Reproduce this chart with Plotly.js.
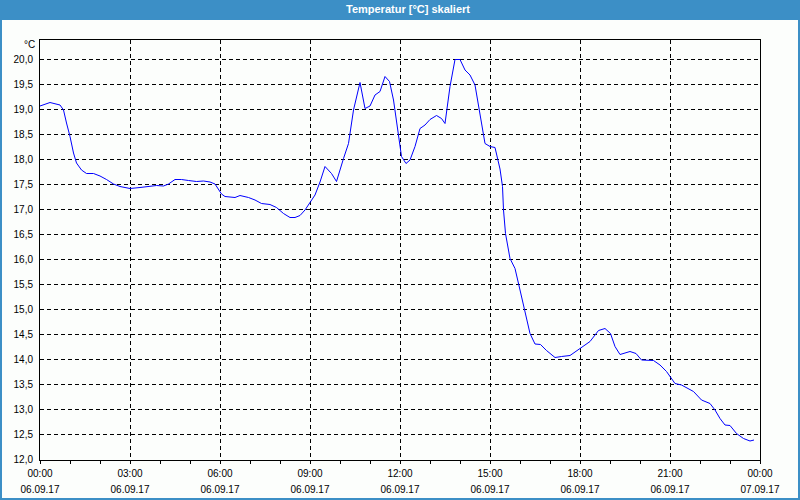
<!DOCTYPE html>
<html>
<head>
<meta charset="utf-8">
<script src="https://cdn.plot.ly/plotly-3.0.1.min.js"></script>
<style>
html,body{margin:0;padding:0;background:#fcfefc;}
#chart{width:800px;height:500px;}
</style>
</head>
<body>
<div id="chart"></div>
<script>
const times = ['00:00','00:20','00:40','00:47','00:53','01:00','01:07','01:13','01:23','01:33','01:47','02:00','02:13','02:27','02:40','03:00','03:20','03:40','03:53','04:07','04:17','04:30','04:43','04:57','05:13','05:27','05:40','05:50','05:57','06:03','06:10','06:30','06:40','06:57','07:10','07:23','07:40','07:53','08:07','08:20','08:30','08:40','08:50','09:00','09:10','09:20','09:30','09:43','09:53','10:07','10:17','10:27','10:40','10:50','11:00','11:10','11:20','11:30','11:39','11:47','11:57','12:03','12:12','12:20','12:30','12:40','12:50','13:00','13:13','13:23','13:30','13:40','13:50','14:00','14:10','14:20','14:30','14:40','14:50','15:00','15:10','15:20','15:25','15:27','15:31','15:40','15:50','16:00','16:10','16:20','16:30','16:41','16:53','17:10','17:23','17:40','18:00','18:20','18:37','18:50','19:01','19:10','19:20','19:40','19:52','20:03','20:27','20:40','20:53','21:10','21:23','21:47','22:03','22:20','22:30','22:40','22:50','23:00','23:13','23:27','23:40','23:48'];
const temps = [19.06,19.13,19.08,18.98,18.72,18.45,18.12,17.92,17.78,17.71,17.71,17.66,17.59,17.50,17.45,17.41,17.43,17.46,17.47,17.46,17.50,17.59,17.59,17.57,17.55,17.56,17.54,17.50,17.38,17.30,17.25,17.23,17.27,17.23,17.18,17.11,17.09,17.03,16.91,16.83,16.83,16.87,16.98,17.12,17.28,17.54,17.85,17.71,17.55,18.01,18.31,18.98,19.53,19.01,19.06,19.28,19.35,19.65,19.55,19.18,18.45,18.05,17.91,17.98,18.25,18.61,18.68,18.79,18.87,18.81,18.71,19.45,19.99,19.99,19.78,19.68,19.48,18.91,18.31,18.25,18.23,17.80,17.45,16.98,16.51,16.01,15.81,15.38,14.95,14.51,14.30,14.29,14.17,14.03,14.05,14.07,14.21,14.35,14.57,14.61,14.51,14.25,14.09,14.15,14.11,13.98,13.97,13.88,13.75,13.51,13.48,13.35,13.18,13.11,12.98,12.81,12.68,12.67,12.51,12.41,12.36,12.38];
const tickTimes = ['2017-09-06 00:00','2017-09-06 03:00','2017-09-06 06:00','2017-09-06 09:00','2017-09-06 12:00','2017-09-06 15:00','2017-09-06 18:00','2017-09-06 21:00','2017-09-07 00:00'];
const timeLabels = ['00:00','03:00','06:00','09:00','12:00','15:00','18:00','21:00','00:00'];
const dateLabels = ['06.09.17','06.09.17','06.09.17','06.09.17','06.09.17','06.09.17','06.09.17','06.09.17','07.09.17'];
const chartTitle = 'Temperatur [°C] skaliert';
const unitLabel = '°C';

const xs = times.map(t => '2017-09-06 ' + t);
const BLUE = '#3c8fc6';
const FONT = 'Liberation Sans, Arial, sans-serif';
const xRange = ['2017-09-06 00:00','2017-09-07 00:00'];

const traces = [
  {x: xs, y: temps, type: 'scatter', mode: 'lines', line: {color: '#0000ff', width: 1}, showlegend: false, hoverinfo: 'skip'},
  {x: xs, y: temps, xaxis: 'x2', type: 'scatter', mode: 'lines', line: {color: 'rgba(0,0,0,0)', width: 0}, showlegend: false, hoverinfo: 'skip'}
];

const layout = {
  width: 800, height: 500,
  margin: {l: 40, r: 40, t: 40, b: 40, pad: 0},
  paper_bgcolor: '#fcfefc', plot_bgcolor: '#fcfefc',
  separators: ',.',
  font: {family: FONT, size: 10, color: '#000'},
  title: {text: chartTitle, x: 0.51, xanchor: 'center', y: 0.981, yanchor: 'middle', yref: 'container',
          font: {family: FONT, size: 11, color: '#ffffff', weight: 'bold'}},
  xaxis: {
    type: 'date', range: xRange, tickmode: 'array', tickvals: tickTimes, ticktext: timeLabels,
    showgrid: true, gridcolor: '#000', gridwidth: 1, griddash: '4px,3px',
    showline: true, linecolor: '#000', linewidth: 1, mirror: true,
    ticks: 'outside', ticklen: 3, tickcolor: '#000', ticklabelstandoff: 1,
    minor: {dtick: 3600000, ticks: 'outside', ticklen: 3, tickcolor: '#000', showgrid: false},
    zeroline: false, tickfont: {family: FONT, size: 10, color: '#000'}
  },
  xaxis2: {
    type: 'date', range: xRange, overlaying: 'x', anchor: 'y', side: 'bottom', matches: 'x',
    tickmode: 'array', tickvals: tickTimes, ticktext: dateLabels,
    showgrid: false, showline: false, ticks: '', ticklabelstandoff: 22, zeroline: false,
    tickfont: {family: FONT, size: 10, color: '#000'}
  },
  yaxis: {
    range: [11.98, 20.38], tick0: 12, dtick: 0.5, tickformat: '.1f',
    showgrid: true, gridcolor: '#000', gridwidth: 1, griddash: '4px,3px',
    showline: true, linecolor: '#000', linewidth: 1, mirror: true,
    ticks: '', ticklabelstandoff: 4, zeroline: false,
    tickfont: {family: FONT, size: 10, color: '#000'}
  },
  shapes: [
    {type: 'rect', xref: 'paper', yref: 'paper', x0: -0.05556, x1: 1.05556, y0: 1.04762, y1: 1.09524,
     fillcolor: BLUE, line: {width: 0}, layer: 'above'},
    {type: 'rect', xref: 'paper', yref: 'paper', x0: -0.054167, x1: 1.054167, y0: -0.092857, y1: 1.092857,
     fillcolor: 'rgba(0,0,0,0)', line: {color: BLUE, width: 2}, layer: 'above'}
  ],
  annotations: [
    {text: unitLabel, xref: 'paper', yref: 'paper', x: 0, xshift: -3, y: 0.9881, xanchor: 'right', yanchor: 'middle',
     showarrow: false, font: {family: FONT, size: 10, color: '#000'}}
  ]
};

Plotly.newPlot('chart', traces, layout, {displayModeBar: false, staticPlot: true});
</script>
</body>
</html>
